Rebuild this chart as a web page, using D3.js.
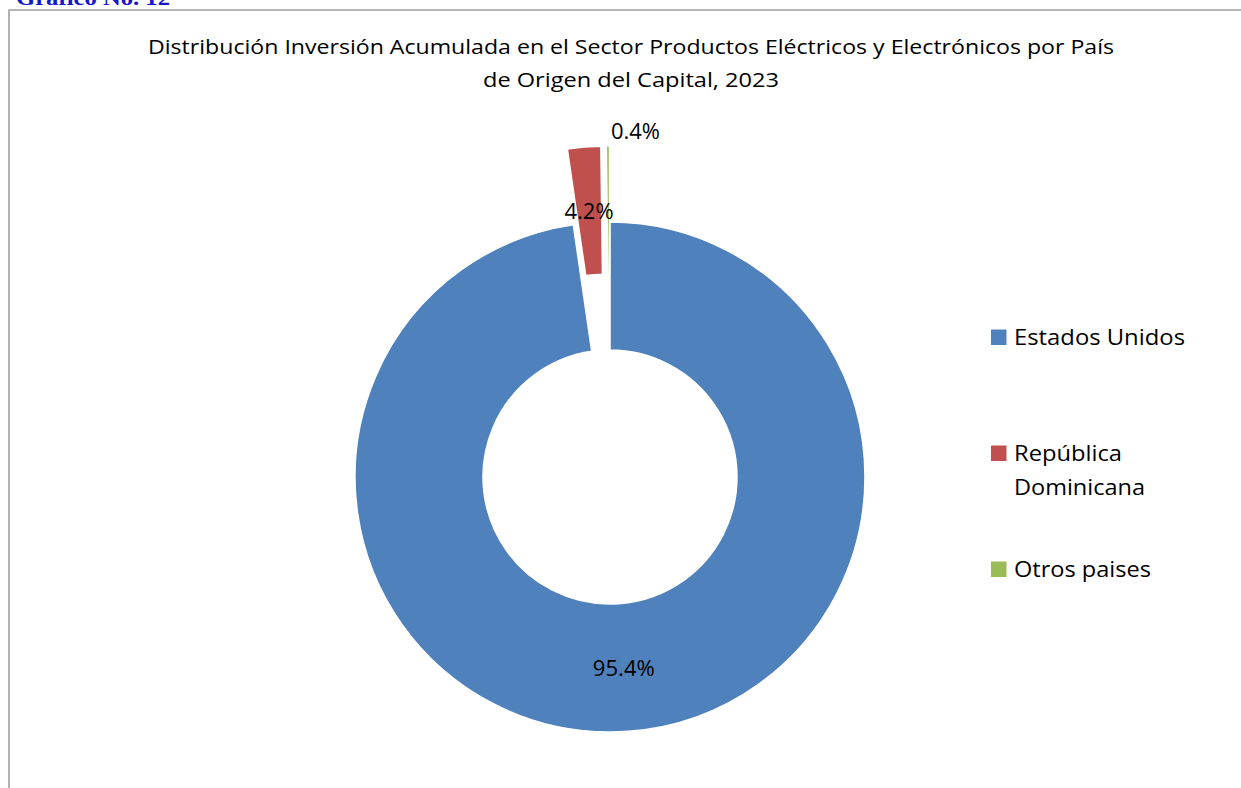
<!DOCTYPE html>
<html>
<head>
<meta charset="utf-8">
<script src="https://cdn.jsdelivr.net/npm/d3@7"></script>
<style>
  body { margin: 0; background: #fff; }
  svg { display: block; }
  text { font-family: "Open Sans", sans-serif; fill: #000; }
</style>
</head>
<body>
<script>
// data
var countries = ["Estados Unidos", "República Dominicana", "Otros paises"];
var shares = [97.7, 2.1, 0.2];          // slice sizes as drawn
var labels = ["95.4%", "4.2%", "0.4%"]; // printed data labels
var exploded = [false, true, true];
var colors = ["#4F81BD", "#C0504D", "#9BBB59"];
var titleLines = ["Distribución Inversión Acumulada en el Sector Productos Eléctricos y Electrónicos por País",
                  "de Origen del Capital, 2023"];
var legendLines = [["Estados Unidos"], ["República", "Dominicana"], ["Otros paises"]];

var width = 1241, height = 788;
var cx = 610, cy = 477, outerR = 255, innerR = 127, explode = 76;

var svg = d3.select("body").append("svg")
    .attr("width", width)
    .attr("height", height);

// caption above the frame (cut off at top, as in the original)
svg.append("text")
    .attr("x", 16).attr("y", 5)
    .attr("textLength", 154).attr("lengthAdjust", "spacingAndGlyphs")
    .style("font-family", "'Liberation Serif', serif")
    .style("font-weight", "bold")
    .style("font-size", "20px")
    .style("fill", "#1414d2")
    .text("Gráfico No. 12");

// frame
svg.append("path")
    .attr("d", "M9," + height + "V10H" + width)
    .attr("fill", "none")
    .attr("stroke", "#a0a0a0")
    .attr("stroke-width", 1.6);

// title
var titleW = [966, 296];
svg.selectAll(".title").data(titleLines).enter()
    .append("text")
    .attr("class", "title")
    .attr("x", 631)
    .attr("y", function(d, i) { return 54 + i * 33; })
    .attr("text-anchor", "middle")
    .attr("textLength", function(d, i) { return titleW[i]; })
    .attr("lengthAdjust", "spacingAndGlyphs")
    .style("font-size", "20px")
    .text(function(d) { return d; });

var pie = d3.pie().sort(null).value(function(d) { return d; });
var arcs = pie(shares);
var arc = d3.arc().innerRadius(innerR).outerRadius(outerR);

function offset(d, i) {
    if (!exploded[i]) return [0, 0];
    var a = (d.startAngle + d.endAngle) / 2;
    return [explode * Math.sin(a), -explode * Math.cos(a)];
}

var g = svg.append("g").attr("transform", "translate(" + cx + "," + cy + ")");

g.selectAll("path.slice").data(arcs).enter()
    .append("path")
    .attr("class", "slice")
    .attr("transform", function(d, i) { var o = offset(d, i); return "translate(" + o[0] + "," + o[1] + ")"; })
    .attr("d", arc)
    .attr("fill", function(d, i) { return colors[i]; })
    .attr("stroke", "#fff")
    .attr("stroke-width", 1.5);

// data labels: centroid, or outside end for the tiny slice
var labelW = [62, 49, 49];
g.selectAll("text.lbl").data(arcs).enter()
    .append("text")
    .attr("class", "lbl")
    .attr("textLength", function(d, i) { return labelW[i]; })
    .attr("lengthAdjust", "spacingAndGlyphs")
    .style("font-size", "22px")
    .each(function(d, i) {
        var o = offset(d, i), t = d3.select(this);
        if (d.endAngle - d.startAngle < 0.02) {
            var a = (d.startAngle + d.endAngle) / 2;
            var px = o[0] + outerR * Math.sin(a), py = o[1] - outerR * Math.cos(a);
            t.attr("x", px + 3).attr("y", py - 7.5).attr("text-anchor", "start");
        } else {
            var c = arc.centroid(d);
            t.attr("x", c[0] + o[0]).attr("y", c[1] + o[1] + 8).attr("text-anchor", "middle");
        }
    })
    .text(function(d, i) { return labels[i]; });

// legend
var legendY = [345, 461, 577];
var legendW = [[171], [108, 131], [137]];
svg.selectAll("rect.key").data(countries).enter()
    .append("rect")
    .attr("class", "key")
    .attr("x", 991)
    .attr("y", function(d, i) { return legendY[i] - 15.5; })
    .attr("width", 15.5).attr("height", 15.5)
    .attr("fill", function(d, i) { return colors[i]; });

var legendRows = [];
legendLines.forEach(function(lines, i) {
    lines.forEach(function(t, j) {
        legendRows.push({text: t, y: legendY[i] + j * 34, w: legendW[i][j]});
    });
});
svg.selectAll("text.leg").data(legendRows).enter()
    .append("text")
    .attr("class", "leg")
    .attr("x", 1014)
    .attr("y", function(d) { return d.y; })
    .attr("textLength", function(d) { return d.w; })
    .attr("lengthAdjust", "spacingAndGlyphs")
    .style("font-size", "22px")
    .text(function(d) { return d.text; });
</script>
</body>
</html>
